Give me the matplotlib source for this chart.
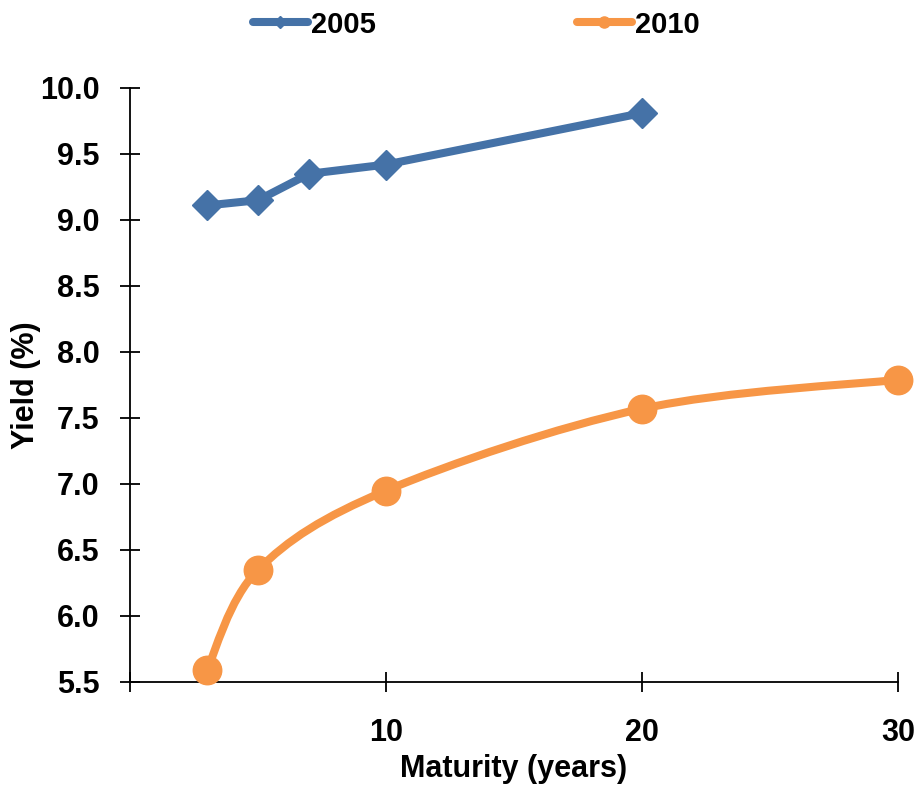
import matplotlib
matplotlib.use("Agg")
import matplotlib.pyplot as plt
from matplotlib.path import Path
from matplotlib.patches import PathPatch
from matplotlib.lines import Line2D
import numpy as np

plt.rcParams['font.family'] = ['Liberation Sans', 'DejaVu Sans']
plt.rcParams['font.weight'] = 'bold'

maturity_2005 = [3, 5, 7, 10, 20]
yield_2005 = [9.11, 9.15, 9.35, 9.42, 9.81]
maturity_2010 = [3, 5, 10, 20, 30]
yield_2010 = [5.59, 6.35, 6.95, 7.57, 7.79]
x_ticks = [10, 20, 30]
y_ticks = [5.5, 6.0, 6.5, 7.0, 7.5, 8.0, 8.5, 9.0, 9.5, 10.0]

blue = '#4572a7'
orange = '#f79646'
LW = 5.8

fig = plt.figure(figsize=(9.21, 7.85), dpi=100)
ax = fig.add_axes([130/921, 103/785, 768/921, 594/785])


def smooth_path(xs, ys, tension=1/6):
    """Cubic Bezier path through the points (Catmull-Rom style smoothing)."""
    pts = np.column_stack([xs, ys]).astype(float)
    n = len(pts)
    verts = [pts[0]]
    codes = [Path.MOVETO]
    for i in range(n - 1):
        p0 = pts[i - 1] if i > 0 else pts[i]
        p1 = pts[i]
        p2 = pts[i + 1]
        p3 = pts[i + 2] if i + 2 < n else pts[i + 1]
        c1 = p1 + (p2 - p0) * tension
        c2 = p2 - (p3 - p1) * tension
        verts += [c1, c2, p2]
        codes += [Path.CURVE4] * 3
    return Path(verts, codes)


ax.plot(maturity_2005, yield_2005, color=blue, lw=LW, marker='D', ms=15,
        solid_capstyle='round', solid_joinstyle='round', zorder=3, clip_on=False)
ax.add_patch(PathPatch(smooth_path(maturity_2010, yield_2010), facecolor='none',
                       edgecolor=orange, lw=LW, capstyle='round', zorder=3,
                       clip_on=False))
ax.plot(maturity_2010, yield_2010, ls='none', marker='o', ms=20.5,
        color=orange, zorder=4, clip_on=False)

ax.set_xlim(0, 30)
ax.set_ylim(5.5, 10.0)
ax.set_xticks(x_ticks)
ax.set_xticks([0], minor=True)
ax.set_yticks(y_ticks)
ax.yaxis.set_major_formatter(matplotlib.ticker.FormatStrFormatter('%.1f'))
ax.tick_params(axis='both', which='both', direction='inout', length=14, width=1.3,
               labelsize=22, colors='black')
ax.tick_params(axis='x', pad=19)
ax.tick_params(axis='y', pad=15)
for s in ['top', 'right']:
    ax.spines[s].set_visible(False)
for s in ['left', 'bottom']:
    ax.spines[s].set_linewidth(1.3)
for lbl in ax.get_xticklabels() + ax.get_yticklabels():
    lbl.set_fontweight('bold')

ax.set_xlabel('Maturity (years)', fontsize=22, fontweight='bold', labelpad=4)
ax.set_ylabel('Yield (%)', fontsize=22, fontweight='bold', labelpad=-1)

handles = [
    Line2D([], [], color=blue, lw=LW, marker='D', ms=6, solid_capstyle='round'),
    Line2D([], [], color=orange, lw=LW, marker='o', ms=8, solid_capstyle='round'),
]
fig.legend(handles, ['2005', '2010'], loc='upper center', bbox_to_anchor=(0.517, 1.02),
           ncol=2, frameon=False, handlelength=1.9, handletextpad=0.1,
           columnspacing=6.88, prop={'weight': 'bold', 'size': 21})

fig.savefig('out.png', dpi=100)
